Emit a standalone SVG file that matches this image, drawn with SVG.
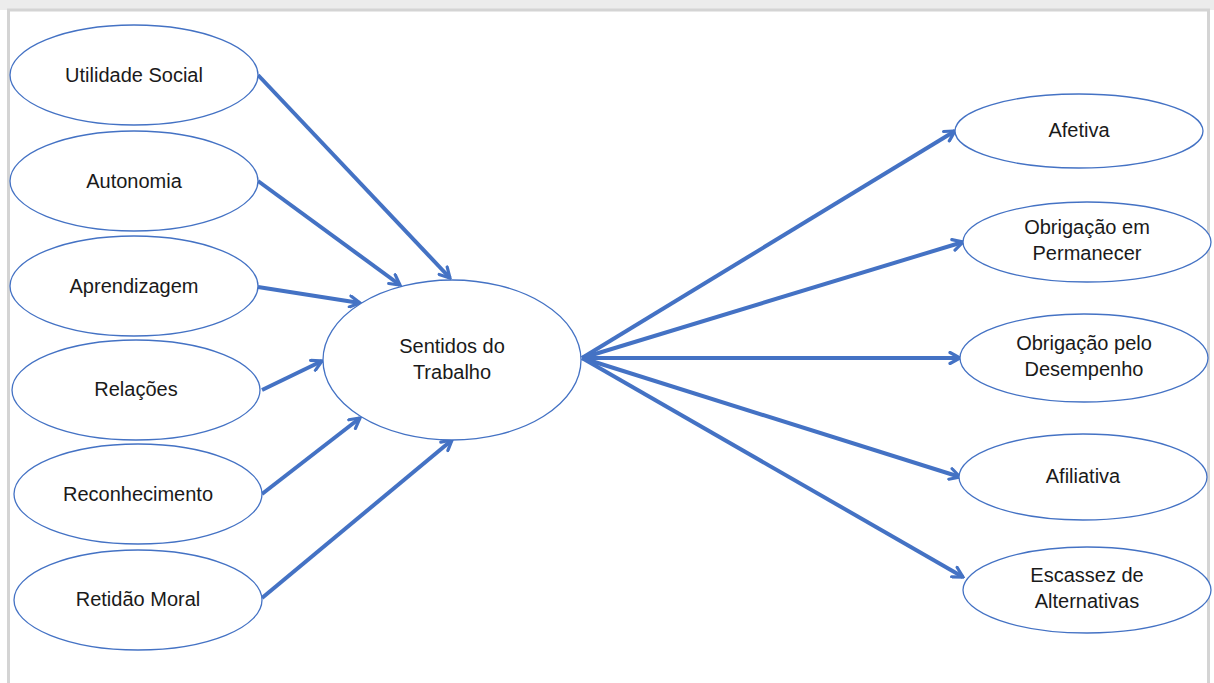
<svg xmlns="http://www.w3.org/2000/svg" width="1214" height="683" viewBox="0 0 1214 683">
<style>
.n ellipse{fill:#fff;stroke:#4472c4;stroke-width:1.3}
.n text{font-family:"Liberation Sans",Arial,sans-serif;font-size:20px;fill:#1a1a1a;text-anchor:middle}
.c line{stroke:#4472c4;stroke-width:4;marker-end:url(#ah)}
</style>
<defs>
<marker id="ah" viewBox="0 0 14 14" refX="12" refY="7" markerWidth="14" markerHeight="14" markerUnits="userSpaceOnUse" orient="auto">
<path d="M2,1.5 L12,7 L2,12.5" fill="none" stroke="#4472c4" stroke-width="3.2" stroke-linecap="round" stroke-linejoin="miter"/>
</marker>
</defs>
<rect x="0" y="0" width="1214" height="683" fill="#fff"/>
<rect x="0" y="0" width="1214" height="10" fill="#ececec"/>
<rect x="8.5" y="10" width="1200" height="680" fill="#fff" stroke="#d4d4d4" stroke-width="3"/>
<g class="c">
<line x1="258" y1="75" x2="450" y2="278"/>
<line x1="258" y1="181" x2="400" y2="285"/>
<line x1="258" y1="287" x2="360" y2="303"/>
<line x1="262" y1="390" x2="322" y2="361"/>
<line x1="262" y1="494" x2="360" y2="418"/>
<line x1="262" y1="598" x2="452" y2="440"/>
<line x1="582" y1="358" x2="955" y2="131"/>
<line x1="582" y1="358" x2="963" y2="242"/>
<line x1="582" y1="358" x2="960" y2="358"/>
<line x1="582" y1="358" x2="960" y2="477"/>
<line x1="582" y1="358" x2="963" y2="577"/>
</g>
<g id="utilidade-social" class="n"><ellipse cx="134" cy="75" rx="124" ry="50"/><text x="134" y="82">Utilidade Social</text></g>
<g id="autonomia" class="n"><ellipse cx="134" cy="181" rx="124" ry="50"/><text x="134" y="188">Autonomia</text></g>
<g id="aprendizagem" class="n"><ellipse cx="134" cy="286" rx="124" ry="50"/><text x="134" y="293">Aprendizagem</text></g>
<g id="relacoes" class="n"><ellipse cx="136" cy="390" rx="124" ry="50"/><text x="136" y="396">Relações</text></g>
<g id="reconhecimento" class="n"><ellipse cx="138" cy="494" rx="124" ry="50"/><text x="138" y="501">Reconhecimento</text></g>
<g id="retidao-moral" class="n"><ellipse cx="138" cy="600" rx="124" ry="50"/><text x="138" y="606">Retidão Moral</text></g>
<g id="sentidos-do-trabalho" class="n"><ellipse cx="452" cy="360" rx="129" ry="80"/><text x="452" y="353">Sentidos do</text><text x="452" y="379">Trabalho</text></g>
<g id="afetiva" class="n"><ellipse cx="1079" cy="131" rx="124" ry="37"/><text x="1079" y="137">Afetiva</text></g>
<g id="obrigacao-permanecer" class="n"><ellipse cx="1087" cy="242" rx="124" ry="40"/><text x="1087" y="234">Obrigação em</text><text x="1087" y="260">Permanecer</text></g>
<g id="obrigacao-desempenho" class="n"><ellipse cx="1084" cy="358" rx="124" ry="44"/><text x="1084" y="350">Obrigação pelo</text><text x="1084" y="376">Desempenho</text></g>
<g id="afiliativa" class="n"><ellipse cx="1083" cy="477" rx="124" ry="43"/><text x="1083" y="483">Afiliativa</text></g>
<g id="escassez" class="n"><ellipse cx="1087" cy="590" rx="124" ry="43"/><text x="1087" y="582">Escassez de</text><text x="1087" y="608">Alternativas</text></g>
</svg>
